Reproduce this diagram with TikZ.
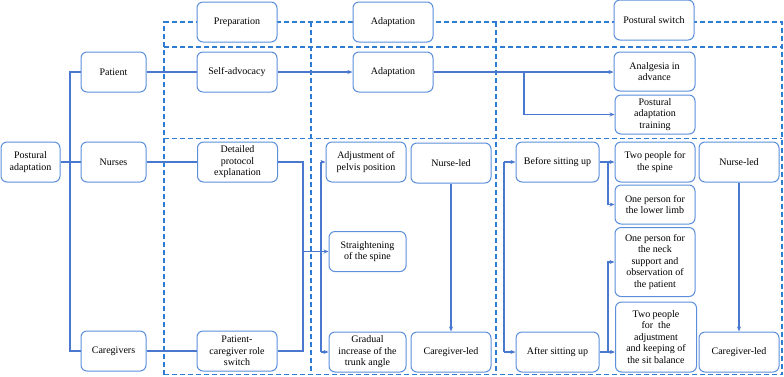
\documentclass[tikz,border=0pt]{standalone}
\usepackage{fontspec}
\setmainfont{Liberation Serif}
\usetikzlibrary{arrows.meta}
\definecolor{boxc}{HTML}{5B8FDB}
\definecolor{linec}{HTML}{4A78CF}
\definecolor{dashc}{HTML}{2F7DD3}
\tikzset{
  box/.style={draw=boxc, line width=1pt, rounded corners=6pt, fill=white, align=center, inner sep=1pt,
    font=\rmfamily\fontsize{10}{11.5}\selectfont, text=black},
  bw/.style n args={2}{minimum width=#1pt, minimum height=#2pt},
  conn/.style={draw=linec, line width=1.2pt},
  arr/.style={conn, -{Stealth[length=5pt,width=4pt]}},
  dline/.style={draw=dashc, line width=1.2pt, dash pattern=on 5pt off 3pt}
}
\begin{document}
\begin{tikzpicture}[x=1pt,y=-1pt]
\useasboundingbox (0,0) rectangle (784,376);
% dashed frame
\draw[dline] (164,374.5) -- (164,22) -- (782,22) -- (782,374.5) -- cycle;
\draw[dline] (164,47) -- (782,47);
\draw[dline] (164,138.5) -- (782,138.5);
\draw[dline] (311,22) -- (311,374.5);
\draw[dline] (496,22) -- (496,374.5);
% headers
\node[box,bw={80}{40}] (h1) at (237,22) {Preparation};
\node[box,bw={80}{40}] (h2) at (393,22) {Adaptation};
\node[box,bw={80}{40}] (h3) at (654,20) {Postural switch};
% main nodes
\node[box,bw={59}{40}] (root) at (30.5,162) {Postural\\adaptation};
\node[box,bw={65}{40}] (patient) at (113.5,72) {Patient};
\node[box,bw={65}{40}] (nurses) at (113.5,162) {Nurses};
\node[box,bw={65}{40}] (care) at (113.5,351) {Caregivers};
\node[box,bw={80}{40}] (selfadv) at (237,72) {Self-advocacy};
\node[box,bw={80}{40}] (detail) at (237.5,162) {Detailed\\protocol\\explanation};
\node[box,bw={80}{40}] (pcs) at (237,351) {Patient-\\caregiver role\\switch};
\node[box,bw={80}{40}] (adapt) at (393,72) {Adaptation};
\node[box,bw={81}{39}] (analg) at (654.5,71.5) {Analgesia in\\advance};
\node[box,bw={80}{39}] (pat) at (655,114.5) {Postural\\adaptation\\training};
\node[box,bw={80}{40}] (adjust) at (366,162) {Adjustment of\\pelvis position};
\node[box,bw={80}{40}] (nled1) at (451,163) {Nurse-led};
\node[box,bw={77}{40}] (straight) at (367.5,251.5) {Straightening\\of the spine};
\node[box,bw={77}{40}] (gradual) at (367.5,352) {Gradual\\increase of the\\trunk angle};
\node[box,bw={80}{40}] (cled1) at (451,352) {Caregiver-led};
\node[box,bw={83}{40}] (before) at (557.5,162) {Before sitting up};
\node[box,bw={83}{40}] (after) at (557.5,352) {After sitting up};
\node[box,bw={80}{40}] (spine) at (655,162) {Two people for\\the spine};
\node[box,bw={80}{39}] (lower) at (655,204.5) {One person for\\the lower limb};
\node[box,bw={80}{69}] (neck) at (655,262) {One person for\\the neck\\support and\\observation of\\the patient};
\node[box,bw={81}{70}] (adjbal) at (656,337) {Two people\\for\ \ the\\adjustment\\and keeping of\\the sit balance};
\node[box,bw={80}{40}] (nled2) at (739,162) {Nurse-led};
\node[box,bw={80}{40}] (cled2) at (739,352) {Caregiver-led};
% coordinates
\coordinate (t1) at (70,72);
\coordinate (t2) at (70,351);
\coordinate (b1) at (524,72);
\coordinate (m1) at (303,162);
\coordinate (m2) at (303,351);
\coordinate (m3) at (303,251.5);
\coordinate (v1) at (321,162);
\coordinate (v2) at (321,352);
\coordinate (w1) at (504,162);
\coordinate (w2) at (504,352);
\coordinate (r1) at (608,162);
\coordinate (r2) at (608,352);
% connectors
\draw[conn] (root.east) -- (nurses.west);
\draw[conn] (patient.west) -- (t1) -- (t2) -- (care.west);
\draw[conn] (patient.east) -- (selfadv.west);
\draw[arr] (selfadv.east) -- (adapt.west);
\draw[arr] (adapt.east) -- (analg.west |- adapt.east);
\draw[arr] (b1) |- (pat.west);
\draw[conn] (nurses.east) -- (detail.west);
\draw[conn] (care.east) -- (pcs.west);
\draw[conn] (detail.east) -- (m1) -- (m2) -- (pcs.east);
\draw[arr] (m3) -- (straight.west);
\draw[conn] (v1) -- (v2);
\draw[arr] (v1) -- (adjust.west);
\draw[arr] (v2) -- (gradual.west);
\draw[arr] (nled1.south) -- (cled1.north);
\draw[conn] (w1) -- (w2);
\draw[arr] (w1) -- (before.west);
\draw[arr] (w2) -- (after.west);
\draw[arr] (before.east) -- (spine.west);
\draw[arr] (r1) |- (lower.west);
\draw[arr] (after.east) -- (adjbal.west |- after.east);
\draw[arr] (r2) |- (neck.west);
\draw[arr] (nled2.south) -- (cled2.north);
\end{tikzpicture}
\end{document}
